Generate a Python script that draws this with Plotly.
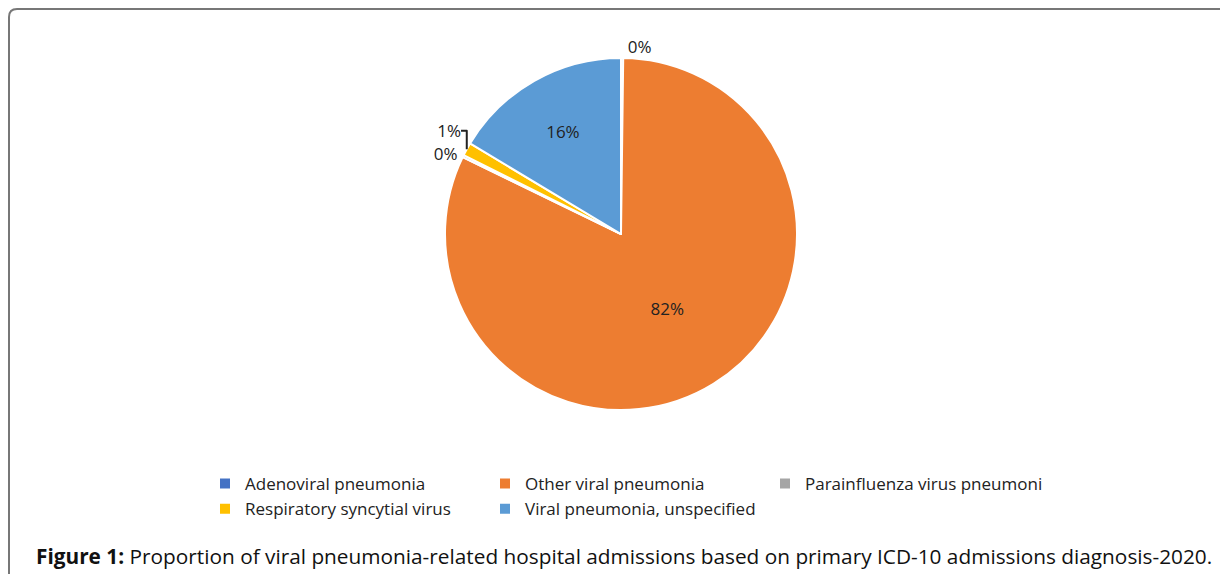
import plotly.graph_objects as go

# slice data (clockwise from 12 o'clock)
labels = ["Adenoviral pneumonia", "Other viral pneumonia", "Parainfluenza virus pneumoni",
          "Respiratory syncytial virus", "Viral pneumonia, unspecified"]
values = [0.2, 82.0, 0.2, 1.2, 16.4]
colors = ["#4472C4", "#ED7D31", "#A5A5A5", "#FFC000", "#5B9BD5"]
text_pos = ["outside", "inside", "outside", "outside", "inside"]

W, H = 1228, 574
OFF = 8    # page body margin
MR = 160   # right margin, keeps the legend at 3 columns
FONT = "Open Sans"

def px(x):
    return (x - OFF) / (W - MR)

def py(y):
    return 1 - (y - OFF) / H

cx, cy, rad = 621, 234, 176

fig = go.Figure(go.Pie(
    labels=labels,
    values=values,
    sort=False,
    direction="clockwise",
    rotation=0,
    marker=dict(colors=colors, line=dict(color="white", width=2)),
    texttemplate="%{percent:.0%}",
    textposition=text_pos,
    textfont=dict(family=FONT, size=17, color="#222222"),
    insidetextorientation="horizontal",
    hoverinfo="label+percent",
    domain=dict(x=[px(cx - rad), px(cx + rad)], y=[py(cy + rad), py(cy - rad)]),
))

# rounded frame, top-left corner
r = 8
x0, y0 = 9, 9
frame = (f"M {px(x0)},0 L {px(x0)},{py(y0 + r)} "
         f"Q {px(x0)},{py(y0)} {px(x0 + r)},{py(y0)} L {px(W + 20)},{py(y0)}")
fig.add_shape(type="path", xref="paper", yref="paper", path=frame,
              line=dict(color="#777777", width=2))

fig.add_annotation(
    text="<b>Figure 1:</b> Proportion of viral pneumonia-related hospital admissions based on primary ICD-10 admissions diagnosis-2020.",
    xref="paper", yref="paper", x=px(34), y=py(556), xanchor="left", yanchor="middle",
    showarrow=False, font=dict(family=FONT, size=20.8, color="#111111"))

fig.update_layout(
    width=W, height=H,
    margin=dict(l=0, r=MR, t=0, b=0, autoexpand=False),
    paper_bgcolor="white",
    plot_bgcolor="white",
    showlegend=True,
    legend=dict(orientation="h", x=px(205), y=py(466), xanchor="left", yanchor="top",
                entrywidth=235, entrywidthmode="pixels", traceorder="normal",
                font=dict(family=FONT, size=17, color="#222222")),
)

fig.write_html("out.html")
